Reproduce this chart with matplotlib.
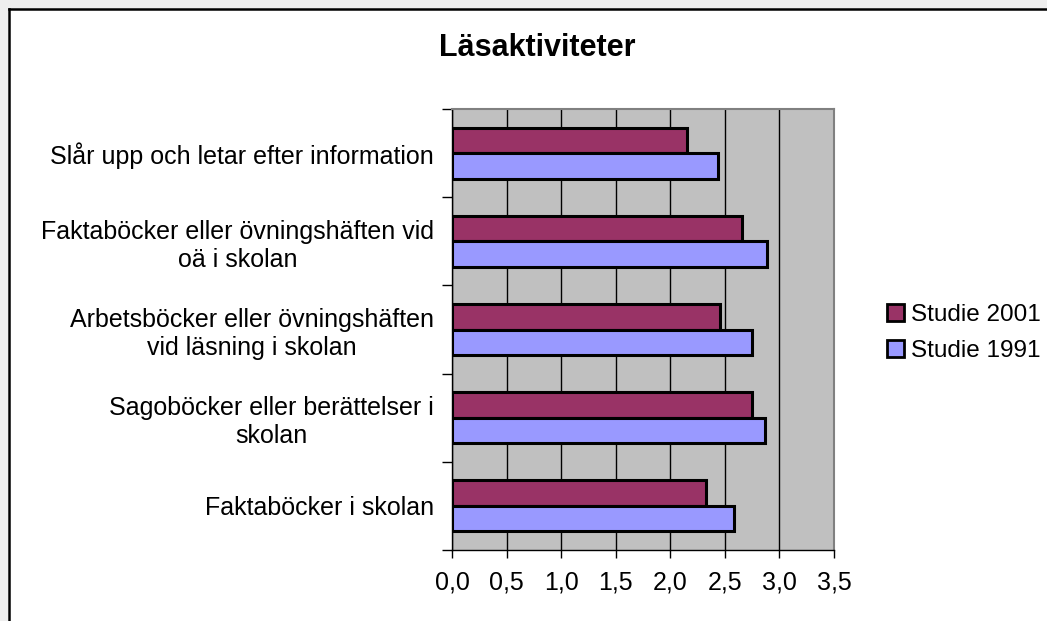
import numpy as np
import matplotlib
matplotlib.use('Agg')
import matplotlib.pyplot as plt
from matplotlib.patches import Patch, Rectangle
from matplotlib.lines import Line2D

plt.rcParams['font.family'] = ['Liberation Sans', 'DejaVu Sans']

# categories listed bottom to top
categories = [
    'Faktaböcker i skolan',
    'Sagoböcker eller berättelser i\nskolan',
    'Arbetsböcker eller övningshäften\nvid läsning i skolan',
    'Faktaböcker eller övningshäften vid\noä i skolan',
    'Slår upp och letar efter information',
]
studie_2001 = [2.33, 2.75, 2.46, 2.66, 2.15]
studie_1991 = [2.58, 2.87, 2.75, 2.89, 2.44]
xticks = [0.0, 0.5, 1.0, 1.5, 2.0, 2.5, 3.0, 3.5]
xtick_labels = ['0,0', '0,5', '1,0', '1,5', '2,0', '2,5', '3,0', '3,5']

W, H = 1047, 621
fig = plt.figure(figsize=(W / 100, H / 100), dpi=100, facecolor='#eeeeee')

# white chart area with black frame on top/left
fig.patches.append(Rectangle((8 / W, 0), 1, 1 - 9 / H, transform=fig.transFigure,
                             facecolor='white', edgecolor='none', zorder=-2))
fig.lines.append(Line2D([8.5 / W, 8.5 / W], [0, 1 - 9 / H], transform=fig.transFigure,
                        color='black', lw=1.8, zorder=-1))
fig.lines.append(Line2D([8.5 / W, 1], [1 - 9 / H, 1 - 9 / H], transform=fig.transFigure,
                        color='black', lw=1.8, zorder=-1))

ax = fig.add_axes([452 / W, 71 / H, 382 / W, 441 / H])
ax.set_facecolor('#c0c0c0')

y = np.arange(len(categories))
h = 0.29
ax.barh(y + h / 2, studie_2001, height=h, color='#993366', edgecolor='black',
        linewidth=2.2, label='Studie 2001')
ax.barh(y - h / 2, studie_1991, height=h, color='#9999ff', edgecolor='black',
        linewidth=2.2, label='Studie 1991')

ax.set_xlim(0, 3.5)
ax.set_ylim(-0.5, len(categories) - 0.5)
ax.set_xticks(xticks)
ax.set_xticklabels(xtick_labels, fontsize=18)
ax.tick_params(axis='x', direction='out', length=6, width=1, pad=9)

ax.set_yticks(np.arange(-0.5, len(categories), 1.0))
ax.set_yticklabels([])
ax.tick_params(axis='y', direction='out', length=7, width=1)
ax.set_yticks(y, minor=True)
ax.set_yticklabels(categories, minor=True, fontsize=18, multialignment='center')
ax.tick_params(axis='y', which='minor', length=0, pad=13)

ax.set_axisbelow(True)
ax.xaxis.grid(True, color='black', linewidth=1)
ax.yaxis.grid(False)

for side in ['left', 'bottom']:
    ax.spines[side].set_color('black')
    ax.spines[side].set_linewidth(1)
for side in ['top', 'right']:
    ax.spines[side].set_color('#808080')
    ax.spines[side].set_linewidth(1.5)

fig.text(537 / W, 1 - 48 / H, 'Läsaktiviteter', ha='center', va='center',
         fontsize=22, fontweight='bold')

handles = [Patch(facecolor='#993366', edgecolor='black', linewidth=2),
           Patch(facecolor='#9999ff', edgecolor='black', linewidth=2)]
fig.legend(handles, ['Studie 2001', 'Studie 1991'], loc='center left',
           bbox_to_anchor=(887 / W, 1 - 333 / H), frameon=False, fontsize=17.5,
           handlelength=0.7, handleheight=0.7, handletextpad=0.3,
           labelspacing=0.55, borderpad=0, borderaxespad=0)

fig.savefig('out.png', dpi=100, facecolor=fig.get_facecolor())
